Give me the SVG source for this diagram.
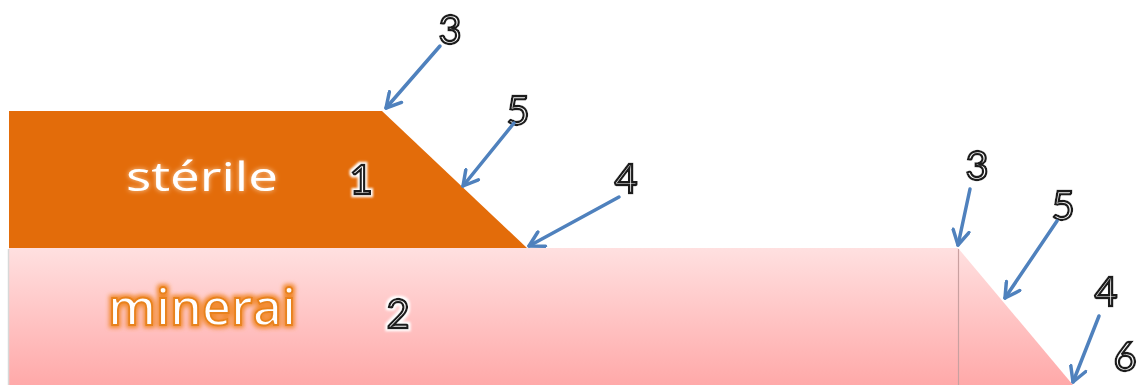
<svg xmlns="http://www.w3.org/2000/svg" width="1138" height="385" viewBox="0 0 1138 385">
<defs>
<linearGradient id="pink" x1="0" y1="0" x2="0" y2="1">
<stop offset="0" stop-color="#FFE0E0"/>
<stop offset="1" stop-color="#FFA9A9"/>
</linearGradient>
<marker id="arr" viewBox="0 0 10 10" refX="8.5" refY="5" markerWidth="5.5" markerHeight="5.5" orient="auto" markerUnits="strokeWidth">
<path d="M1,0.8 L8.5,5 L1,9.2" fill="none" stroke="#4F81BD" stroke-width="1.8" stroke-linecap="round" stroke-linejoin="round"/>
</marker>
<filter id="halo" x="-30%" y="-30%" width="160%" height="160%">
<feMorphology in="SourceAlpha" operator="dilate" radius="2" result="d"/>
<feGaussianBlur in="d" stdDeviation="0.8" result="b"/>
<feFlood flood-color="#fff"/>
<feComposite in2="b" operator="in" result="w"/>
<feMerge><feMergeNode in="w"/><feMergeNode in="SourceGraphic"/></feMerge>
</filter>
<filter id="oglow" x="-20%" y="-30%" width="140%" height="160%">
<feMorphology in="SourceAlpha" operator="dilate" radius="1.5" result="d"/>
<feGaussianBlur in="d" stdDeviation="2" result="b"/>
<feFlood flood-color="#F28A2E"/>
<feComposite in2="b" operator="in" result="g"/>
<feMerge><feMergeNode in="g"/><feMergeNode in="SourceGraphic"/></feMerge>
</filter>
<filter id="wglow" x="-20%" y="-30%" width="140%" height="160%">
<feGaussianBlur in="SourceAlpha" stdDeviation="2.5" result="b"/>
<feFlood flood-color="#FFE0C0" flood-opacity="0.9"/>
<feComposite in2="b" operator="in" result="g"/>
<feMerge><feMergeNode in="g"/><feMergeNode in="SourceGraphic"/></feMerge>
</filter>
</defs>
<style>
.num{font-family:Lato,"Open Sans",sans-serif;font-size:40px;fill:#fff;stroke:#1a1a1a;stroke-width:2.3px;text-anchor:middle;filter:url(#halo)}
.big{font-family:"Open Sans",Lato,sans-serif;fill:#fff}
.conn line{stroke:#4F81BD;stroke-width:3.5;stroke-linecap:round;marker-end:url(#arr)}
</style>
<rect width="1138" height="385" fill="#fff"/>
<g id="minerai">
<path d="M9,248 L958,248 L1073,385 L9,385 Z" fill="url(#pink)"/>
<line x1="8.5" y1="249" x2="8.5" y2="385" stroke="#d8d8d8" stroke-width="1.5"/>
<line x1="958.5" y1="249" x2="958.5" y2="385" stroke="#c9a0a0" stroke-width="1.2"/>
<text class="big" x="108" y="325" font-size="50" font-weight="600" textLength="188" lengthAdjust="spacingAndGlyphs" stroke="#E8821E" stroke-width="1.8" filter="url(#oglow)">minerai</text>
<text class="num" x="398" y="328">2</text>
</g>
<g id="sterile">
<path d="M9,111 L382,111 L527,248 L9,248 Z" fill="#E36C0A"/>
<text class="big" x="126" y="191" font-size="40" textLength="152" lengthAdjust="spacingAndGlyphs" filter="url(#wglow)">stérile</text>
<text class="num" x="361" y="194">1</text>
</g>
<g id="labels">
<text class="num" x="450" y="44">3</text>
<text class="num" x="518" y="125">5</text>
<text class="num" x="626" y="193">4</text>
<text class="num" x="977" y="180">3</text>
<text class="num" x="1063" y="220">5</text>
<text class="num" x="1106" y="306">4</text>
<text class="num" x="1125" y="371">6</text>
</g>
<g class="conn" id="connectors">
<line x1="440" y1="46" x2="386" y2="108"/>
<line x1="514" y1="123" x2="463" y2="186"/>
<line x1="619" y1="197" x2="529" y2="246"/>
<line x1="970" y1="189" x2="958" y2="245"/>
<line x1="1057" y1="221" x2="1005" y2="298"/>
<line x1="1099" y1="316" x2="1073" y2="382"/>
</g>
</svg>
